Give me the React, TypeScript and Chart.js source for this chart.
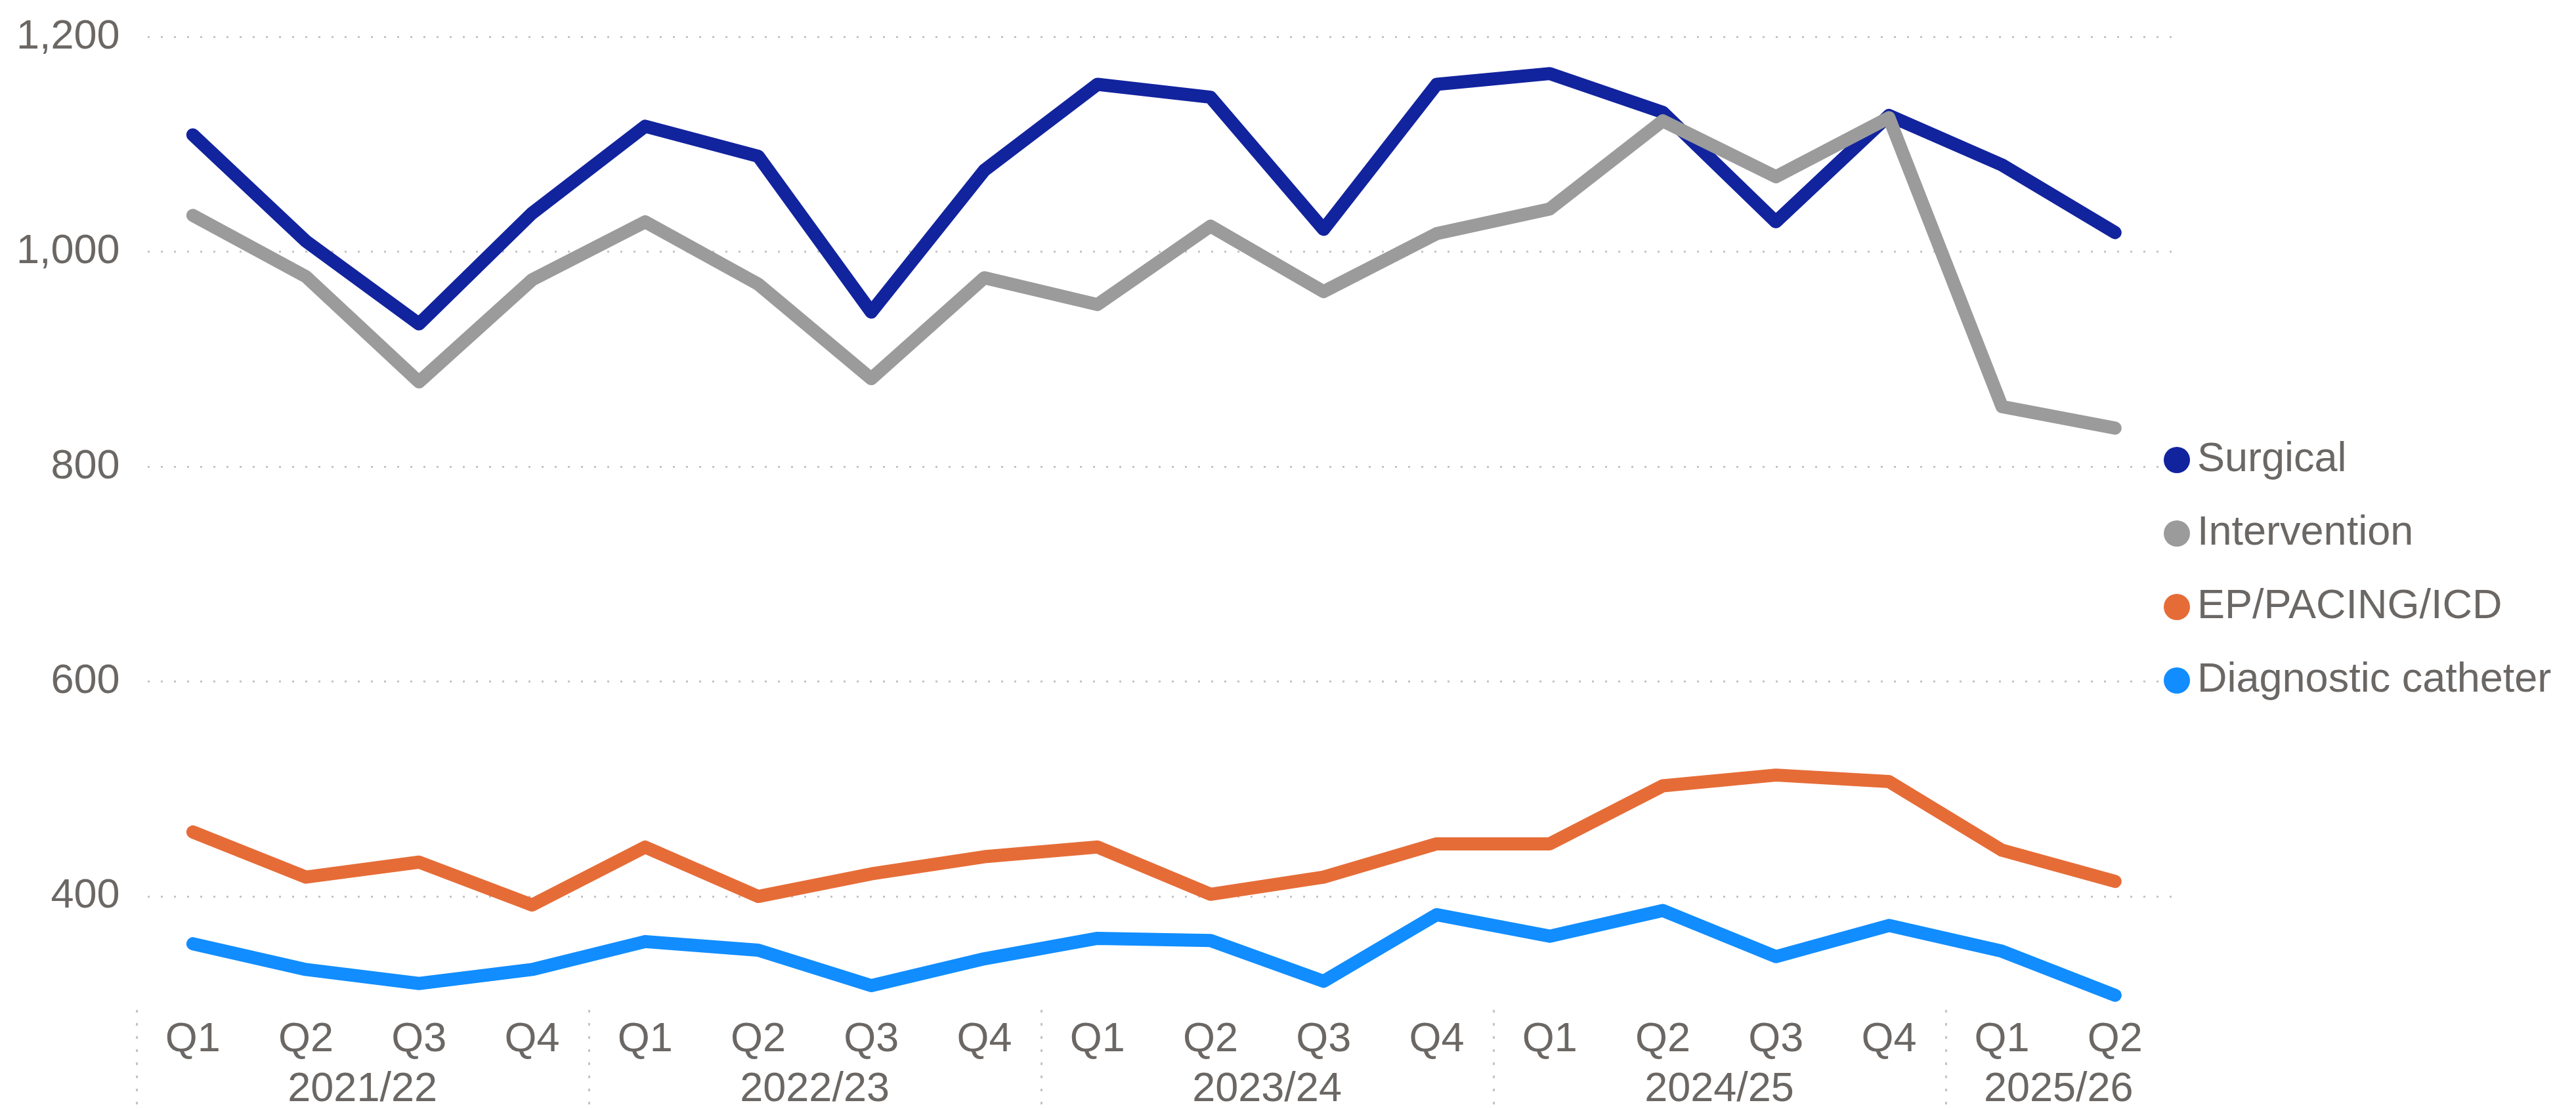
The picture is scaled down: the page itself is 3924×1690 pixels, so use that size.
import React, { useEffect, useRef } from 'react';
import { Chart, registerables } from 'chart.js';

Chart.register(...registerables);

// ---- data ----
const quarters = ['Q1', 'Q2', 'Q3', 'Q4', 'Q1', 'Q2', 'Q3', 'Q4', 'Q1', 'Q2', 'Q3', 'Q4', 'Q1', 'Q2', 'Q3', 'Q4', 'Q1', 'Q2'];
const fiscalYears = [
  '2021/22', '2021/22', '2021/22', '2021/22',
  '2022/23', '2022/23', '2022/23', '2022/23',
  '2023/24', '2023/24', '2023/24', '2023/24',
  '2024/25', '2024/25', '2024/25', '2024/25',
  '2025/26', '2025/26',
];
const yearLabels = ['2021/22', '2022/23', '2023/24', '2024/25', '2025/26'];

const surgical = [1109, 1010, 933, 1036, 1117, 1089, 944, 1076, 1156, 1144, 1021, 1156, 1166, 1130, 1028, 1127, 1081, 1018];
const intervention = [1034, 977, 879, 974, 1028, 970, 882, 976, 951, 1024, 963, 1017, 1040, 1122, 1070, 1125, 856, 836];
const epPacingIcd = [460, 418, 432, 392, 446, 400, 421, 437, 446, 402, 418, 449, 449, 503, 513, 507, 443, 414];
const diagnostic = [356, 332, 319, 332, 358, 350, 317, 342, 361, 359, 321, 383, 363, 387, 344, 373, 349, 308];

const yTicks = [400, 600, 800, 1000, 1200];

const seriesNames = ['Surgical', 'Intervention', 'EP/PACING/ICD', 'Diagnostic catheter'];
const seriesColors = ['#12239E', '#9B9B9B', '#E66C37', '#118DFF'];

// ---- derived ----
const groups = yearLabels.map((label) => {
  const idx = fiscalYears.map((f, i) => (f === label ? i : -1)).filter((i) => i >= 0);
  return { label, start: idx[0], end: idx[idx.length - 1] };
});

const FONT = '"Liberation Sans", Arial, Helvetica, sans-serif';
const TEXT = '#6b6764';

const separatorPlugin = {
  id: 'groupSeparators',
  afterDraw(chart: any) {
    const s = chart.scales.x2;
    const ctx = chart.ctx;
    const top = chart.chartArea.bottom + 1;
    const bottom = top + 144;
    ctx.save();
    ctx.strokeStyle = '#c4c4c4';
    ctx.lineWidth = 3;
    ctx.setLineDash([4, 16]);
    groups.forEach((g) => {
      const x = Math.round(s.getPixelForValue(g.start - 0.5)) + 0.5;
      ctx.beginPath();
      ctx.moveTo(x, top);
      ctx.lineTo(x, bottom);
      ctx.stroke();
    });
    ctx.restore();
  },
};

export default function App() {
  const ref = useRef<HTMLCanvasElement | null>(null);

  useEffect(() => {
    if (!ref.current) return;
    const values = [surgical, intervention, epPacingIcd, diagnostic];
    const drawOrder = [1, 0, 2, 3];
    const chart = new Chart(ref.current, {
      type: 'line',
      data: {
        labels: quarters,
        datasets: values.map((v, i) => ({
          label: seriesNames[i],
          data: v,
          borderColor: seriesColors[i],
          backgroundColor: seriesColors[i],
          borderWidth: 20,
          borderCapStyle: 'round',
          borderJoinStyle: 'round',
          pointRadius: 0,
          pointHoverRadius: 0,
          tension: 0,
          fill: false,
          order: drawOrder[i],
          xAxisID: 'x',
          yAxisID: 'y',
        })),
      },
      options: {
        animation: false,
        responsive: false,
        devicePixelRatio: 1,
        events: [],
        layout: { padding: { top: 48, right: 616, left: 0, bottom: 0 } },
        plugins: {
          legend: { display: false },
          tooltip: { enabled: false },
        },
        scales: {
          x: {
            type: 'category',
            position: 'bottom',
            weight: 0,
            offset: true,
            grid: { display: false, drawTicks: false },
            border: { display: false },
            ticks: {
              color: TEXT,
              font: { family: FONT, size: 63, lineHeight: 1 },
              padding: 15.5,
              maxRotation: 0,
              autoSkip: false,
            },
          },
          x2: {
            type: 'linear',
            position: 'bottom',
            weight: 1,
            min: -0.5,
            max: quarters.length - 0.5,
            grid: { display: false, drawTicks: false },
            border: { display: false },
            afterBuildTicks: (scale: any) => {
              scale.ticks = groups.map((g) => ({ value: (g.start + g.end) / 2 }));
            },
            ticks: {
              color: TEXT,
              font: { family: FONT, size: 63, lineHeight: 1 },
              padding: -2.5,
              maxRotation: 0,
              autoSkip: false,
              callback: (_v: any, index: number) => groups[index] ? groups[index].label : '',
            },
          },
          y: {
            type: 'linear',
            min: 295,
            max: 1200,
            afterBuildTicks: (scale: any) => {
              scale.ticks = yTicks.map((v) => ({ value: v }));
            },
            grid: {
              drawTicks: false,
              color: '#c4c4c4',
              lineWidth: 3,
            },
            border: { display: false, dash: [3, 17], dashOffset: 3 },
            ticks: {
              color: TEXT,
              font: { family: FONT, size: 63, lineHeight: 1 },
              padding: 25,
              callback: (v: any) => Number(v).toLocaleString('en-US'),
            },
          },
        },
      },
      plugins: [separatorPlugin],
    } as any);
    return () => chart.destroy();
  }, []);

  const legendTops = [701, 813, 925, 1037];

  return (
    <div style={{ position: 'absolute', left: 0, top: 0, width: 3924, height: 1690, background: '#fff', overflow: 'hidden' }}>
      <canvas ref={ref} width={3924} height={1690} style={{ width: 3924, height: 1690, display: 'block' }} />
      {seriesNames.map((name, i) => (
        <div
          key={name}
          style={{
            position: 'absolute',
            left: 3296,
            top: legendTops[i] - 40,
            height: 80,
            display: 'flex',
            alignItems: 'center',
            whiteSpace: 'nowrap',
          }}
        >
          <div style={{ width: 40, height: 40, borderRadius: '50%', background: seriesColors[i], flex: '0 0 auto' }} />
          <div
            style={{
              marginLeft: 11,
              fontFamily: FONT,
              fontSize: 63,
              lineHeight: '63px',
              color: TEXT,
              position: 'relative',
              top: -5,
            }}
          >
            {name}
          </div>
        </div>
      ))}
    </div>
  );
}
